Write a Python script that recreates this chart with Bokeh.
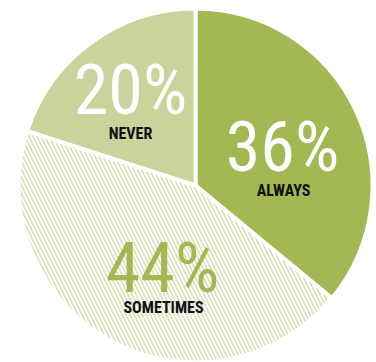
import math
from bokeh.plotting import figure
from bokeh.models import ColumnDataSource
from bokeh.core.properties import value
from bokeh.embed import file_html
from bokeh.resources import INLINE

# ---- data ----
categories = ["ALWAYS", "SOMETIMES", "NEVER"]
percents = [36, 44, 20]
pct_labels = ["36%", "44%", "20%"]

# ---- styles / layout ----
W, H = 376, 362
cx, cy, r = 195, H - 185, 177
fills = ["#a3b853", "#d8dfb6", "#c9d39c"]
hatches = [" ", "\\", " "]
num_colors = ["#ffffff", "#a3b853", "#ffffff"]
num_pos = [(282, H - 146), (162, H - 267), (130, H - 89)]
cat_pos = [(283, H - 190), (163, H - 307), (130, H - 133)]
FONT = "'Roboto Condensed', 'DejaVu Sans Condensed', 'Open Sans Condensed', Roboto"

total = sum(percents)
starts, ends = [], []
acc = 0.0
for v in percents:
    starts.append(math.pi / 2 - 2 * math.pi * acc / total)
    acc += v
    ends.append(math.pi / 2 - 2 * math.pi * acc / total)

src = ColumnDataSource(dict(
    cat=categories, start=starts, end=ends, fill=fills, hatch=hatches,
))

p = figure(width=W, height=H, x_range=(0, W), y_range=(0, H),
           output_backend="svg", toolbar_location=None, min_border=0,
           background_fill_color="white", border_fill_color="white")
p.axis.visible = False
p.grid.visible = False
p.outline_line_color = None

p.wedge(x=cx, y=cy, radius=r, start_angle="start", end_angle="end",
        direction="clock", fill_color="fill", line_color="white", line_width=4,
        hatch_pattern="hatch", hatch_color="white", hatch_scale=8,
        hatch_weight=2, source=src)

nsrc = ColumnDataSource(dict(
    x=[q[0] for q in num_pos], y=[q[1] for q in num_pos],
    t=pct_labels, c=num_colors))
p.text(x="x", y="y", text="t", text_color="c", source=nsrc,
       text_font=value(FONT), text_font_size="70px",
       text_align="center", text_baseline="alphabetic")

csrc = ColumnDataSource(dict(
    x=[q[0] for q in cat_pos], y=[q[1] for q in cat_pos], t=categories))
p.text(x="x", y="y", text="t", text_color="#111111", source=csrc,
       text_font=value(FONT), text_font_style="bold",
       text_font_size="16px", text_align="center", text_baseline="alphabetic")

open("out.html", "w").write(file_html(p, INLINE))
